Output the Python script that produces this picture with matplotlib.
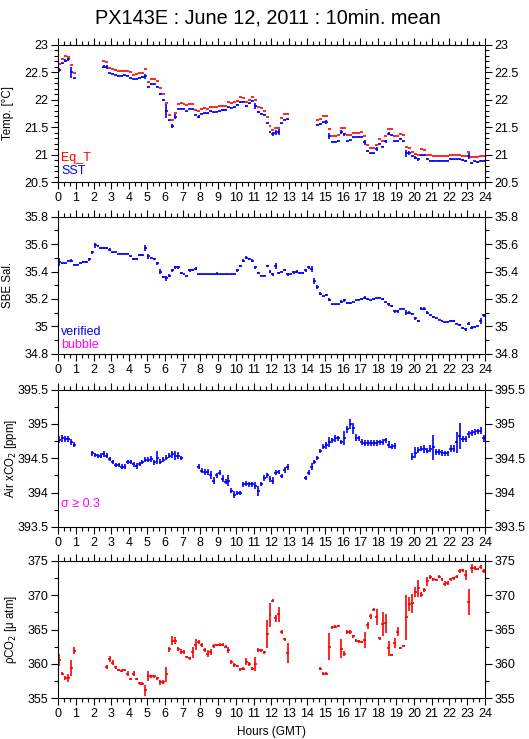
import numpy as np
import matplotlib
matplotlib.use('Agg')
import matplotlib.pyplot as plt
from matplotlib.ticker import MultipleLocator

plt.rcParams['font.family'] = ['Liberation Sans', 'DejaVu Sans']

nan = np.nan

# 10 minute means, index k covers k*10 .. (k+1)*10 min
eq_t = ([22.65, 22.74, 22.80, 22.78, 22.63, 22.49] + [nan] * 9 +
        [22.71, 22.69, 22.57, 22.55, 22.53, 22.52, 22.52, 22.52, 22.52, 22.50,
         22.45, 22.46, 22.48, 22.49, 22.56, 22.32, 22.38, 22.38, 22.33, 22.21,
         22.10, 21.93, 21.72, 21.62, 21.75, 21.92, 21.93, 21.91, 21.90, 21.91,
         21.91, 21.81, 21.80, 21.83, 21.84, 21.83, 21.87, 21.87, 21.87, 21.89,
         21.89, 21.89, 21.95, 21.94, 21.95, 21.98, 22.04, 22.02, 21.96, 22.00,
         22.05, 22.00, 21.87, 21.85, 21.80, 21.69, 21.52, 21.45, 21.49, 21.49,
         21.66, 21.73, 21.73] + [nan] * 9 +
        [21.62, 21.64, 21.70, 21.70, 21.46, 21.34, 21.34, 21.36, 21.49, 21.49,
         21.36, 21.36, 21.40, 21.40, 21.40, 21.41, 21.34, 21.18, 21.12, 21.12,
         21.18, 21.29, 21.24, 21.34, 21.46, 21.46, 21.34, 21.34, 21.38, 21.36,
         21.13, 21.12, 21.05, 21.01, 21.00, 21.10, 21.08, 21.00, 20.99, 20.98,
         20.98, 20.98, 20.97, 20.97, 20.97, 21.00, 21.00, 21.00, 21.00, 20.98,
         20.97, 21.05, 20.95, 20.96, 20.95, 20.98, 20.98])

sst = ([22.54, 22.66, 22.71, 22.73, 22.50, 22.39] + [nan] * 9 +
       [22.60, 22.59, 22.48, 22.47, 22.45, 22.43, 22.43, 22.44, 22.43, 22.39,
        22.37, 22.38, 22.40, 22.41, 22.42, 22.23, 22.28, 22.28, 22.23, 22.10,
        21.99, 21.79, 21.62, 21.52, 21.69, 21.83, 21.83, 21.83, 21.79, 21.83,
        21.83, 21.72, 21.69, 21.74, 21.75, 21.75, 21.79, 21.77, 21.78, 21.79,
        21.81, 21.81, 21.86, 21.85, 21.87, 21.90, 21.95, 21.96, 21.88, 21.93,
        21.98, 21.88, 21.78, 21.74, 21.72, 21.57, 21.41, 21.37, 21.40, 21.41,
        21.57, 21.63, 21.64] + [nan] * 9 +
       [21.54, 21.55, 21.59, 21.59, 21.34, 21.23, 21.23, 21.25, 21.41, 21.37,
        21.24, 21.26, 21.31, 21.31, 21.32, 21.32, 21.22, 21.06, 21.02, 21.02,
        21.10, 21.20, 21.14, 21.24, 21.38, 21.35, 21.24, 21.24, 21.29, 21.24,
        21.02, 21.03, 20.97, 20.94, 20.91, 20.99, 20.99, 20.92, 20.89, 20.89,
        20.89, 20.89, 20.89, 20.89, 20.89, 20.91, 20.91, 20.91, 20.91, 20.90,
        20.88, 20.97, 20.85, 20.88, 20.87, 20.89, 20.89])

sst_sd = ([0.04, 0.01, 0.02, 0.03, 0.10, 0.01] + [nan] * 9 +
          [0.02, 0.04, 0.01, 0.01, 0.01, 0.01, 0.01, 0.01, 0.01, 0.01,
           0.01, 0.01, 0.01, 0.02, 0.05, 0.01, 0.01, 0.01, 0.01, 0.02,
           0.02, 0.12, 0.01, 0.03, 0.05, 0.01, 0.01, 0.01, 0.01, 0.01,
           0.01, 0.01, 0.03, 0.01, 0.01, 0.01, 0.01, 0.01, 0.01, 0.01,
           0.01, 0.01, 0.01, 0.01, 0.02, 0.01, 0.02, 0.01, 0.02, 0.01,
           0.01, 0.05, 0.02, 0.01, 0.01, 0.01, 0.01, 0.04, 0.04, 0.05,
           0.01, 0.01, 0.01] + [nan] * 9 +
          [0.01, 0.02, 0.01, 0.03, 0.05, 0.01, 0.01, 0.02, 0.03, 0.03,
           0.01, 0.01, 0.01, 0.01, 0.01, 0.01, 0.05, 0.02, 0.01, 0.01,
           0.03, 0.01, 0.01, 0.03, 0.03, 0.01, 0.01, 0.01, 0.01, 0.01,
           0.06, 0.03, 0.01, 0.03, 0.03, 0.01, 0.01, 0.01, 0.01, 0.01,
           0.01, 0.01, 0.01, 0.01, 0.01, 0.01, 0.01, 0.01, 0.01, 0.01,
           0.02, 0.06, 0.02, 0.01, 0.02, 0.01, 0.01])

sal = [35.47, 35.46, 35.46, 35.48, 35.48, 35.45, 35.45, 35.46, 35.47, 35.47,
       35.49, 35.54, 35.59, 35.585, 35.57, 35.57, 35.57, 35.56, 35.54, 35.54,
       35.53, 35.53, 35.53, 35.53, 35.51, 35.49, 35.49, 35.52, 35.52, 35.57,
       35.51, 35.50, 35.49, 35.46, 35.40, 35.36, 35.35, 35.37, 35.41, 35.43,
       35.43, 35.39, 35.38, 35.37, 35.41, 35.41, 35.42, 35.38, 35.38, 35.38,
       35.38, 35.38, 35.38, 35.385, 35.38, 35.38, 35.38, 35.38, 35.38, 35.38,
       35.41, 35.44, 35.48, 35.50, 35.49, 35.48, 35.43, 35.39, 35.37, 35.37,
       35.44, 35.40, 35.38, 35.44, 35.39, 35.40, 35.41, 35.38, 35.38, 35.395,
       35.40, 35.39, 35.39, 35.41, 35.43, 35.42, 35.33, 35.29, 35.24, 35.22,
       35.23, 35.195, 35.16, 35.16, 35.16, 35.18, 35.19, 35.17, 35.17, 35.18,
       35.19, 35.195, 35.20, 35.21, 35.20, 35.19, 35.20, 35.21, 35.21, 35.20,
       35.175, 35.16, 35.15, 35.11, 35.11, 35.13, 35.13, 35.10, 35.10, 35.09,
       35.06, 35.04, 35.13, 35.13, 35.10, 35.08, 35.07, 35.06, 35.05, 35.04,
       35.03, 35.035, 35.04, 35.04, 35.02, 35.01, 34.99, 34.98, 35.02, 34.99,
       34.995, 35.00, 35.04, 35.08]

sal_sd = [0.03, 0.005, 0.005, 0.005, 0.01, 0.005, 0.005, 0.005, 0.01, 0.01,
          0.01, 0.01, 0.02, 0.01, 0.005, 0.005, 0.005, 0.01, 0.005, 0.005,
          0.005, 0.005, 0.005, 0.005, 0.005, 0.005, 0.005, 0.01, 0.01, 0.02,
          0.02, 0.005, 0.005, 0.01, 0.02, 0.005, 0.02, 0.01, 0.01, 0.01,
          0.01, 0.01, 0.005, 0.005, 0.01, 0.005, 0.01, 0.005, 0.005, 0.005,
          0.005, 0.005, 0.005, 0.01, 0.005, 0.005, 0.005, 0.005, 0.005, 0.005,
          0.01, 0.01, 0.01, 0.01, 0.005, 0.01, 0.01, 0.01, 0.005, 0.005,
          0.01, 0.01, 0.01, 0.02, 0.01, 0.005, 0.005, 0.01, 0.005, 0.01,
          0.01, 0.01, 0.01, 0.01, 0.01, 0.02, 0.02, 0.015, 0.01, 0.005,
          0.01, 0.01, 0.005, 0.005, 0.005, 0.01, 0.01, 0.005, 0.005, 0.005,
          0.005, 0.005, 0.005, 0.01, 0.005, 0.005, 0.005, 0.005, 0.005, 0.01,
          0.005, 0.01, 0.005, 0.01, 0.01, 0.005, 0.005, 0.02, 0.01, 0.01,
          0.01, 0.01, 0.01, 0.01, 0.01, 0.005, 0.005, 0.005, 0.005, 0.005,
          0.005, 0.005, 0.005, 0.005, 0.005, 0.005, 0.005, 0.01, 0.01, 0.01,
          0.005, 0.005, 0.02, 0.01]

air = ([394.77, 394.79, 394.78, 394.78, 394.74, 394.70] + [nan] * 5 +
       [394.57, 394.55, 394.53, 394.54, 394.56, 394.54, 394.49, 394.45, 394.40,
        394.40, 394.38, 394.38, 394.44, 394.45, 394.41, 394.39, 394.42, 394.45,
        394.48, 394.48, 394.49, 394.44, 394.51, 394.45, 394.48, 394.51, 394.54,
        394.56, 394.54, 394.54, 394.51] + [nan] * 5 +
       [394.38, 394.32, 394.30, 394.30, 394.26, 394.17, 394.25, 394.29, 394.20,
        394.16, 394.17, 394.03, 393.97, 394.00, 394.00, 394.12, 394.13, 394.12,
        394.12, 394.10, 394.02, 394.12, 394.21, 394.25, 394.20, 394.17, 394.29,
        394.30, 394.24, 394.33, 394.37] + [nan] * 5 +
       [394.21, 394.29, 394.38, 394.45, 394.51, 394.61, 394.67, 394.69, 394.74,
        394.76, 394.79, 394.79, 394.74, 394.79, 394.92, 395.00, 394.94, 394.80,
        394.79, 394.74, 394.72, 394.72, 394.72, 394.72, 394.72, 394.73, 394.74,
        394.76, 394.70, 394.67, 394.68] + [nan] * 5 +
       [394.52, 394.58, 394.62, 394.64, 394.63, 394.61, 394.64, 394.66, 394.59,
        394.59, 394.58, 394.57, 394.57, 394.64, 394.64, 394.73, 394.83, 394.78,
        394.78, 394.85, 394.87, 394.88, 394.89, 394.90, 394.79])

air_sd = ([0.05, 0.05, 0.05, 0.05, 0.04, 0.03] + [nan] * 5 +
          [0.03, 0.03, 0.03, 0.03, 0.04, 0.03, 0.03, 0.03, 0.03,
           0.03, 0.04, 0.03, 0.03, 0.03, 0.03, 0.04, 0.03, 0.03,
           0.04, 0.04, 0.04, 0.04, 0.10, 0.04, 0.04, 0.04, 0.04,
           0.05, 0.07, 0.05, 0.03] + [nan] * 5 +
          [0.04, 0.04, 0.04, 0.04, 0.06, 0.05, 0.04, 0.04, 0.05,
           0.04, 0.08, 0.04, 0.05, 0.03, 0.03, 0.04, 0.04, 0.04,
           0.04, 0.05, 0.07, 0.03, 0.04, 0.04, 0.04, 0.05, 0.04,
           0.03, 0.03, 0.04, 0.04] + [nan] * 5 +
          [0.03, 0.04, 0.05, 0.03, 0.03, 0.03, 0.04, 0.05, 0.07,
           0.04, 0.05, 0.04, 0.03, 0.10, 0.05, 0.07, 0.08, 0.05,
           0.04, 0.04, 0.04, 0.04, 0.04, 0.04, 0.04, 0.04, 0.04,
           0.04, 0.05, 0.04, 0.04] + [nan] * 5 +
          [0.05, 0.08, 0.04, 0.04, 0.06, 0.04, 0.05, 0.18, 0.04,
           0.04, 0.04, 0.04, 0.04, 0.05, 0.05, 0.15, 0.19, 0.05,
           0.04, 0.05, 0.04, 0.04, 0.04, 0.05, 0.05])

pco2 = ([360.6, 358.6, 358.0, 357.9, 359.4, 361.9] + [nan] * 10 +
        [359.5, 360.7, 360.2, 359.5, 359.1, 359.0, 359.1, 358.6, 357.8, 358.6,
         357.8, 357.2, 357.1, 356.2, 358.2, 358.2, 358.2, 357.9, 357.3, 357.4,
         358.5, 362.1, 363.4, 363.4, 362.2, 361.8, 361.7, 361.0, 360.8, 361.7,
         362.8, 363.2, 362.8, 362.0, 361.5, 361.7, 362.6, 362.75, 362.8, 362.8,
         362.5, 362.0, 360.3, 359.85, 359.7, 359.2, 359.3, 360.3, 360.0, 359.3,
         360.0, 362.0, 362.0, 361.7, 364.35, 367.1, 369.2, 366.65, 367.2, 364.6,
         363.6, 361.6] + [nan] * 10 +
        [359.3, 358.6, 358.6, 362.5, 365.3, 365.4, 365.5, 362.2, 361.5, 364.6,
         364.6, 364.0, 363.4, 363.3, 363.2, 363.5, 365.6, 366.9, 367.9, 366.8,
         363.7, 365.8, 365.9, 362.3, 361.3, 363.0, 364.7, 362.3, 362.6, 366.8,
         368.7, 368.8, 370.5, 371.0, 370.1, 370.7, 372.0, 372.7, 372.3, 372.2,
         372.7, 372.3, 371.7, 371.8, 372.3, 372.45, 372.7, 373.5, 373.6, 372.9,
         369.0, 373.9, 373.9, 373.8, 374.1, 373.5])

pco2_sd = ([0.9, 0.2, 0.3, 0.6, 1.1, 0.5] + [nan] * 10 +
           [0.3, 0.4, 0.3, 0.2, 0.2, 0.2, 0.2, 0.3, 0.2, 0.3,
            0.2, 0.2, 0.2, 0.8, 0.7, 0.2, 0.2, 0.2, 0.3, 0.3,
            1.1, 0.3, 0.7, 0.5, 0.3, 0.3, 0.3, 0.2, 0.2, 0.8,
            0.8, 0.3, 0.3, 0.3, 0.5, 0.4, 0.3, 0.2, 0.2, 0.2,
            0.2, 0.4, 0.3, 0.3, 0.2, 0.2, 0.2, 0.5, 0.3, 0.2,
            1.0, 0.3, 0.2, 0.2, 2.1, 1.8, 0.2, 0.5, 1.1, 0.3,
            0.2, 1.4] + [nan] * 10 +
           [0.2, 0.2, 0.2, 2.0, 0.2, 0.2, 0.2, 1.4, 0.4, 0.3,
            0.3, 0.2, 0.2, 0.2, 0.2, 1.2, 0.5, 0.4, 0.2, 1.2,
            0.2, 1.8, 1.4, 1.1, 0.2, 0.7, 0.6, 0.2, 0.2, 3.3,
            1.0, 1.4, 0.7, 1.2, 0.3, 0.3, 0.7, 0.3, 0.2, 0.2,
            0.2, 0.2, 0.3, 0.3, 0.2, 0.2, 0.2, 0.3, 0.2, 0.7,
            1.9, 0.6, 0.3, 0.2, 0.3, 0.3])

hours = np.arange(144) / 6 + 1 / 12
half = 1 / 12

RED = '#ff0000'
BLUE = '#0000ff'
MAG = '#ff00ff'

fig = plt.figure(figsize=(5.29, 7.39), dpi=100)
fig.text(0.507, 0.975, 'PX143E : June 12, 2011 : 10min. mean',
         ha='center', va='center', fontsize=14.3)

left, width, height = 0.1096, 0.8072, 0.1860
bottoms = [0.7537, 0.5210, 0.2869, 0.0551]
ylims = [(20.5, 23), (34.8, 35.8), (393.5, 395.5), (355, 375)]
ymaj = [0.5, 0.2, 0.5, 5]
ymin = [0.1, 0.1, 0.25, 2.5]
ylabels = ['Temp. [°C]', 'SBE Sal.', 'Air xCO$_2$ [ppm]', 'ρCO$_2$ [μ atm]']
ylab_x = [-0.102, -0.102, -0.092, -0.092]

axes = []
for i in range(4):
    ax = fig.add_axes([left, bottoms[i], width, height])
    ax.set_xlim(0, 24)
    ax.set_ylim(*ylims[i])
    ax.xaxis.set_major_locator(MultipleLocator(1))
    ax.xaxis.set_minor_locator(MultipleLocator(1 / 3))
    ax.yaxis.set_major_locator(MultipleLocator(ymaj[i]))
    ax.yaxis.set_minor_locator(MultipleLocator(ymin[i]))
    ax.tick_params(which='both', direction='out', top=True, right=True,
                   labelright=True, labelsize=9, width=0.8, pad=2)
    ax.tick_params(which='major', length=5)
    ax.tick_params(which='minor', length=3)
    ax.yaxis.set_major_formatter(plt.FuncFormatter(lambda v, p: '{:g}'.format(round(v, 2))))
    ax.set_ylabel(ylabels[i], fontsize=8.3)
    ax.yaxis.set_label_coords(ylab_x[i], 0.5)
    for s in ax.spines.values():
        s.set_linewidth(0.8)
    axes.append(ax)

ebk = dict(fmt='none', elinewidth=1.2, capsize=0)

ax = axes[0]
ax.errorbar(hours, eq_t, xerr=half, ecolor=RED, **ebk)
ax.errorbar(hours, sst, xerr=half, yerr=sst_sd, ecolor=BLUE, **ebk)
ax.text(0.007, 0.175, 'Eq_T', color=RED, transform=ax.transAxes, fontsize=9, va='center')
ax.text(0.007, 0.08, 'SST', color=BLUE, transform=ax.transAxes, fontsize=9, va='center')

ax = axes[1]
ax.errorbar(hours, sal, xerr=half, yerr=sal_sd, ecolor=BLUE, **ebk)
ax.text(0.007, 0.16, 'verified', color=BLUE, transform=ax.transAxes, fontsize=9, va='center')
ax.text(0.007, 0.066, 'bubble', color=MAG, transform=ax.transAxes, fontsize=9, va='center')

ax = axes[2]
ax.errorbar(hours, air, xerr=half, yerr=air_sd, ecolor=BLUE, **ebk)
ax.text(0.007, 0.167, 'σ ≥ 0.3', color=MAG, transform=ax.transAxes, fontsize=9, va='center')

ax = axes[3]
ax.errorbar(hours, pco2, xerr=half, yerr=pco2_sd, ecolor=RED, **ebk)
ax.set_xlabel('Hours (GMT)', fontsize=8.5, labelpad=4)

fig.savefig('out.png', dpi=100)
